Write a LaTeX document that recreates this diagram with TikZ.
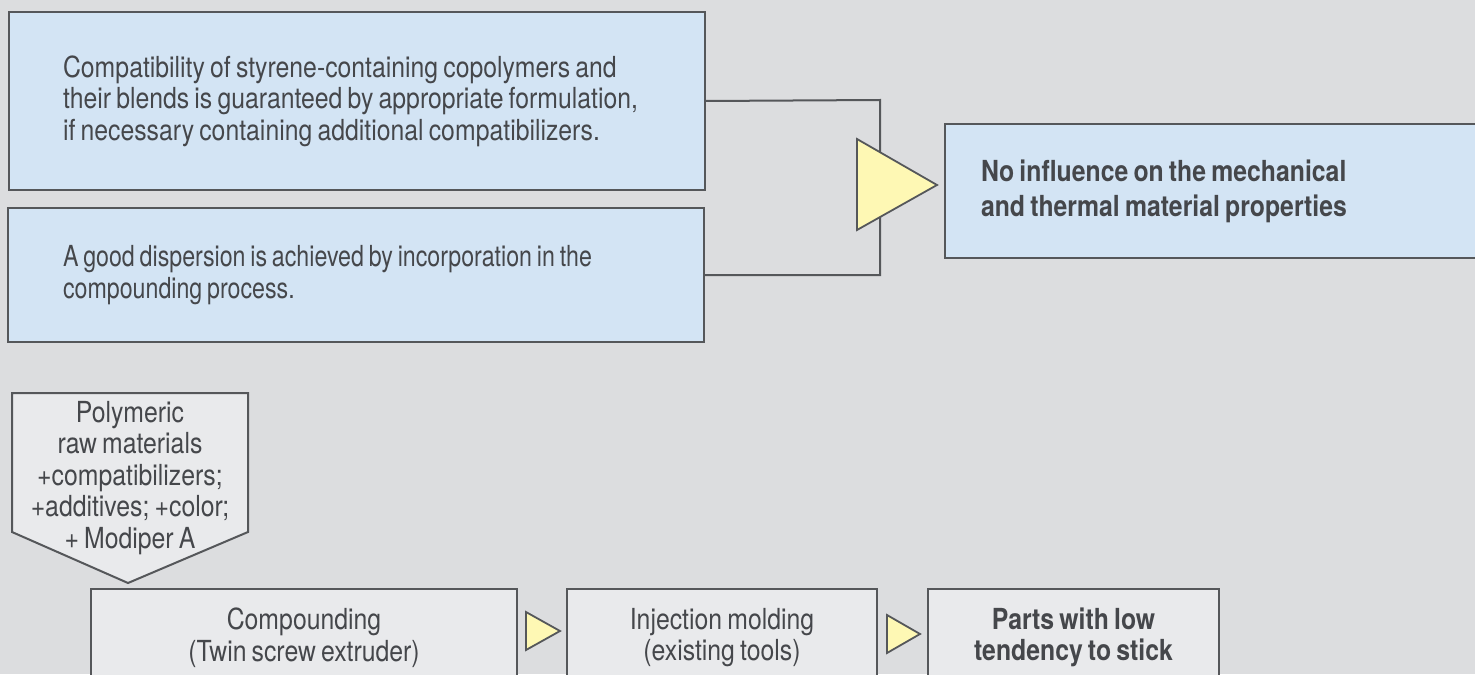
\documentclass[tikz,border=0pt]{standalone}
\usepackage{fontspec}
\setmainfont{TeX Gyre Heros}[FakeStretch=0.855, WordSpace=0.75]
\usetikzlibrary{positioning}

\definecolor{bgray}{HTML}{DCDDDF}
\definecolor{boxblue}{HTML}{D3E4F4}
\definecolor{boxgray}{HTML}{E9EAEC}
\definecolor{triyellow}{HTML}{FEF8B4}
\definecolor{edgegray}{HTML}{55575A}
\definecolor{ink}{HTML}{45474B}

\tikzset{
  txt/.style={text=ink, font=\fontsize{14.5}{15.75}\selectfont},
  tighttxt/.style={text=ink, font=\fontsize{14.5}{15.75}\selectfont\addfontfeatures{FakeStretch=0.8}},
  boldtxt/.style={text=ink, font=\fontsize{14.5}{15.75}\selectfont\bfseries},
  bigbold/.style={text=ink, font=\fontsize{14.5}{17.5}\selectfont\bfseries},
  bluebox/.style={draw=edgegray, line width=1pt, fill=boxblue, anchor=north west, align=flush left},
  graybox/.style={draw=edgegray, line width=1pt, fill=boxgray, anchor=north west, align=center, inner sep=0pt},
  pointer/.style={draw=edgegray, line width=0.9pt, fill=triyellow},
  link/.style={draw=edgegray, line width=1pt},
}

\begin{document}
\begin{tikzpicture}[x=0.5pt, y=-0.5pt]
\fill[bgray] (0,0) rectangle (1475,674);
\useasboundingbox (0,0) rectangle (1475,674);

\node[bluebox, txt, minimum width=348pt, minimum height=89pt, inner xsep=27pt, text width=294pt] (compat) at (8,11)
  {Compatibility of styrene-containing copolymers and\\ their blends is guaranteed by appropriate formulation,\\ if necessary containing additional compatibilizers.};
\node[bluebox, tighttxt, minimum width=348pt, minimum height=67pt, inner xsep=27.5pt, text width=293pt] (disp) at (7,207)
  {A good dispersion is achieved by incorporation in the\\ compounding process.};
\node[bluebox, bigbold, minimum width=270pt, minimum height=67pt, inner xsep=18pt, text width=234pt] (result) at (944,123)
  {No influence on the mechanical\\ and thermal material properties};

\draw[link] (compat.east) -- (880,100) |- (disp.east);
\draw[pointer] (857,139) -- (937,185) -- (857,230) -- cycle;

% raw materials feed
\draw[link, fill=boxgray] (12,393) -- (248,393) -- (248,532) -- (128,583) -- (12,532) -- cycle;
\node[txt, align=center] (raw) at (130,478)
  {Polymeric\\ raw materials\\ +compatibilizers;\\ +additives; +color;\\ + Modiper A};

\node[graybox, txt, minimum width=213pt, minimum height=48.5pt] (comp) at (90,588)
  {Compounding\\ (Twin screw extruder)};
\node[graybox, txt, minimum width=155pt, minimum height=48.5pt] (mold) at (566,588)
  {Injection molding\\ (existing tools)};
\node[graybox, boldtxt, minimum width=145.5pt, minimum height=48.5pt] (parts) at (927,588)
  {Parts with low\\ tendency to stick};

\draw[pointer] (526,612) -- (560,631) -- (526,650) -- cycle;
\draw[pointer] (887,615) -- (920,634) -- (887,653) -- cycle;
\end{tikzpicture}
\end{document}
